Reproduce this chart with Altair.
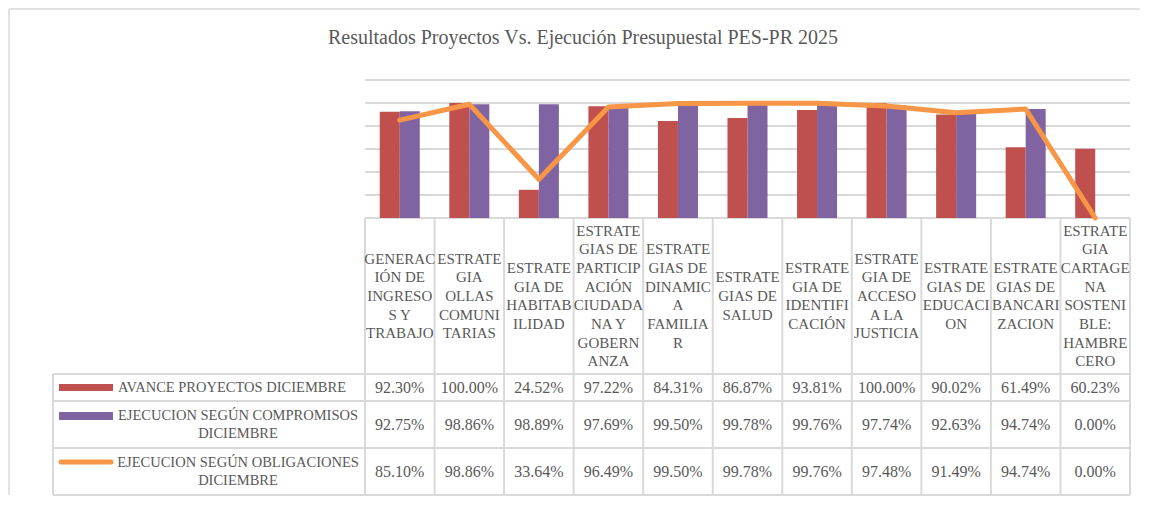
import altair as alt
import pandas as pd

# ---------------- data ----------------
title_text = "Resultados Proyectos Vs. Ejecución Presupuestal PES-PR 2025"

categories = [
    "GENERACIÓN DE INGRESOS Y TRABAJO",
    "ESTRATEGIA OLLAS COMUNITARIAS",
    "ESTRATEGIA DE HABITABILIDAD",
    "ESTRATEGIAS DE PARTICIPACIÓN CIUDADANA Y GOBERNANZA",
    "ESTRATEGIAS DE DINAMICA FAMILIAR",
    "ESTRATEGIAS DE SALUD",
    "ESTRATEGIA DE IDENTIFICACIÓN",
    "ESTRATEGIA DE ACCESO A LA JUSTICIA",
    "ESTRATEGIAS DE EDUCACION",
    "ESTRATEGIAS DE BANCARIZACION",
    "ESTRATEGIA CARTAGENA SOSTENIBLE: HAMBRE CERO",
]
category_labels = [
    "GENERAC\nIÓN DE\nINGRESO\nS Y\nTRABAJO",
    "ESTRATE\nGIA\nOLLAS\nCOMUNI\nTARIAS",
    "ESTRATE\nGIA DE\nHABITAB\nILIDAD",
    "ESTRATE\nGIAS DE\nPARTICIP\nACIÓN\nCIUDADA\nNA Y\nGOBERN\nANZA",
    "ESTRATE\nGIAS DE\nDINAMIC\nA\nFAMILIA\nR",
    "ESTRATE\nGIAS DE\nSALUD",
    "ESTRATE\nGIA DE\nIDENTIFI\nCACIÓN",
    "ESTRATE\nGIA DE\nACCESO\nA LA\nJUSTICIA",
    "ESTRATE\nGIAS DE\nEDUCACI\nON",
    "ESTRATE\nGIAS DE\nBANCARI\nZACION",
    "ESTRATE\nGIA\nCARTAGE\nNA\nSOSTENI\nBLE:\nHAMBRE\nCERO",
]

series_names = [
    "AVANCE PROYECTOS DICIEMBRE",
    "EJECUCION SEGÚN COMPROMISOS DICIEMBRE",
    "EJECUCION SEGÚN OBLIGACIONES DICIEMBRE",
]
series_labels = [
    "AVANCE PROYECTOS DICIEMBRE",
    "EJECUCION SEGÚN COMPROMISOS\nDICIEMBRE",
    "EJECUCION SEGÚN OBLIGACIONES\nDICIEMBRE",
]
avance = [92.30, 100.00, 24.52, 97.22, 84.31, 86.87, 93.81, 100.00, 90.02, 61.49, 60.23]
compromisos = [92.75, 98.86, 98.89, 97.69, 99.50, 99.78, 99.76, 97.74, 92.63, 94.74, 0.00]
obligaciones = [85.10, 98.86, 33.64, 96.49, 99.50, 99.78, 99.76, 97.48, 91.49, 94.74, 0.00]
y_ticks = [0, 20, 40, 60, 80, 100, 120]

colors = ["#C0504D", "#8064A2", "#F79646"]

# ---------------- layout / style ----------------
W, H = 765, 138
FONT = "Liberation Serif"
TXT = "#595959"
GRID = "#d9d9d9"
ROW_EDGES = [H, 294, 321, 368, 415]       # header top, row lines (px, below plot top)
ROW_CENTERS = [307.5, 344.5, 391.5]
HDR_CENTER = (H + ROW_EDGES[1]) / 2
HDR_LH = 18.7
LEG_LH = 18
LEFT = -312                               # left edge of legend column
SW_X0, SW_X1 = -306, -252

series_values = [avance, compromisos, obligaciones]

bars_df = pd.DataFrame(
    [
        {"cat": c, "series": series_names[s], "value": series_values[s][i]}
        for s in (0, 1)
        for i, c in enumerate(categories)
    ]
)
line_df = pd.DataFrame({"cat": categories, "value": obligaciones})
hdr_df = pd.DataFrame(
    {
        "cat": categories,
        "label": category_labels,
        "nlines": [lab.count("\n") + 1 for lab in category_labels],
    }
)
one = pd.DataFrame({"k": [0]})

xscale = alt.Scale(paddingInner=0, paddingOuter=0)

layers = []

# horizontal gridlines of the plot
layers.append(
    alt.Chart(pd.DataFrame({"v": y_ticks}))
    .mark_rule(color=GRID, strokeWidth=2)
    .encode(
        y=alt.Y("v:Q", scale=alt.Scale(domain=[0, 120], nice=False), axis=None),
        x=alt.value(0),
        x2=alt.value(W),
    )
)

# vertical lines of the table (band edges)
layers.append(
    alt.Chart(pd.DataFrame({"cat": categories}))
    .mark_rule(color=GRID, strokeWidth=2)
    .encode(
        x=alt.X("cat:N", sort=categories, bandPosition=0, scale=xscale, axis=None),
        y=alt.value(H),
        y2=alt.value(ROW_EDGES[-1]),
    )
)
layers.append(
    alt.Chart(pd.DataFrame({"cat": categories[-1:]}))
    .mark_rule(color=GRID, strokeWidth=2)
    .encode(
        x=alt.X("cat:N", sort=categories, bandPosition=1, axis=None),
        y=alt.value(H),
        y2=alt.value(ROW_EDGES[-1]),
    )
)
# horizontal table lines
for yy in ROW_EDGES[1:]:
    layers.append(
        alt.Chart(one)
        .mark_rule(color=GRID, strokeWidth=2)
        .encode(x=alt.value(LEFT), x2=alt.value(W), y=alt.value(yy))
    )
layers.append(
    alt.Chart(one)
    .mark_rule(color=GRID, strokeWidth=2)
    .encode(x=alt.value(LEFT), y=alt.value(ROW_EDGES[1]), y2=alt.value(ROW_EDGES[-1]))
)
# outer chart border (top and left)
layers.append(
    alt.Chart(one)
    .mark_rule(color=GRID, strokeWidth=1.5)
    .encode(x=alt.value(-356), x2=alt.value(775), y=alt.value(-71))
)
layers.append(
    alt.Chart(one)
    .mark_rule(color=GRID, strokeWidth=1.5)
    .encode(x=alt.value(-356), y=alt.value(-71), y2=alt.value(ROW_EDGES[-1]))
)

# bars
layers.append(
    alt.Chart(bars_df)
    .mark_bar()
    .encode(
        x=alt.X("cat:N", sort=categories, scale=xscale, axis=None),
        xOffset=alt.XOffset(
            "series:N",
            sort=series_names[:2],
            scale=alt.Scale(paddingInner=0, paddingOuter=0.7375),
        ),
        y=alt.Y("value:Q", axis=None),
        color=alt.Color(
            "series:N",
            scale=alt.Scale(domain=series_names, range=colors),
            legend=None,
        ),
    )
)

# line
layers.append(
    alt.Chart(line_df)
    .mark_line(color=colors[2], strokeWidth=5, strokeCap="round", strokeJoin="round")
    .encode(
        x=alt.X("cat:N", sort=categories, bandPosition=0.5, axis=None),
        y=alt.Y("value:Q", axis=None),
    )
)

# header labels (one layer per line count so each block is vertically centred)
for n in sorted(hdr_df["nlines"].unique()):
    sub = hdr_df[hdr_df["nlines"] == n]
    layers.append(
        alt.Chart(sub)
        .mark_text(
            font=FONT, fontSize=15, color=TXT, lineBreak="\n", lineHeight=HDR_LH,
            align="center", baseline="middle", dy=-(int(n) - 1) * HDR_LH / 2,
        )
        .encode(
            x=alt.X("cat:N", sort=categories, axis=None),
            y=alt.value(HDR_CENTER),
            text="label:N",
        )
    )

# value rows
for s in range(3):
    df = pd.DataFrame(
        {"cat": categories, "txt": [f"{v:.2f}%" for v in series_values[s]]}
    )
    layers.append(
        alt.Chart(df)
        .mark_text(font=FONT, fontSize=16, color=TXT, align="center", baseline="middle")
        .encode(
            x=alt.X("cat:N", sort=categories, axis=None),
            y=alt.value(ROW_CENTERS[s]),
            text="txt:N",
        )
    )

# legend keys and labels in the table
layers.append(
    alt.Chart(one).mark_rect(color=colors[0])
    .encode(x=alt.value(SW_X0), x2=alt.value(SW_X1), y=alt.value(304), y2=alt.value(311))
)
layers.append(
    alt.Chart(one).mark_rect(color=colors[1])
    .encode(x=alt.value(SW_X0), x2=alt.value(SW_X1), y=alt.value(332), y2=alt.value(340))
)
layers.append(
    alt.Chart(one).mark_rule(color=colors[2], strokeWidth=5, strokeCap="round")
    .encode(x=alt.value(SW_X0 + 2), x2=alt.value(SW_X1 - 2), y=alt.value(382))
)
layers.append(
    alt.Chart(pd.DataFrame({"t": [series_labels[0]]}))
    .mark_text(font=FONT, fontSize=14.5, color=TXT, align="left", baseline="middle")
    .encode(x=alt.value(-247), y=alt.value(ROW_CENTERS[0]), text="t:N")
)
for s in (1, 2):
    layers.append(
        alt.Chart(pd.DataFrame({"t": [series_labels[s]]}))
        .mark_text(
            font=FONT, fontSize=14.5, color=TXT, align="center", baseline="middle",
            lineBreak="\n", lineHeight=LEG_LH, dy=-LEG_LH / 2,
        )
        .encode(x=alt.value(-127), y=alt.value(ROW_CENTERS[s]), text="t:N")
    )

# title
layers.append(
    alt.Chart(pd.DataFrame({"t": [title_text]}))
    .mark_text(font=FONT, fontSize=20, color=TXT, align="center", baseline="middle")
    .encode(x=alt.value(218), y=alt.value(-42), text="t:N")
)

chart = (
    alt.layer(*layers)
    .properties(width=W, height=H, padding=0)
    .configure_view(strokeWidth=0)
)

chart.save("out.html", embed_options={"renderer": "svg", "actions": False})
